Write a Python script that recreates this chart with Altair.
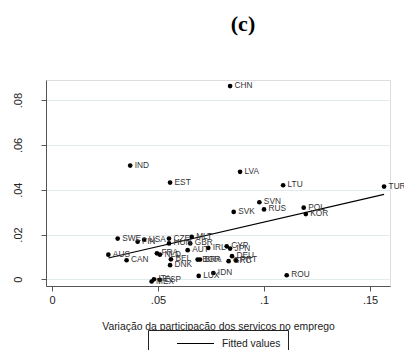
import altair as alt
import pandas as pd

countries = ["AUS", "CAN", "SWE", "FIN", "USA", "IND", "EST", "CZE", "HUN", "MLT",
             "GBR", "AUT", "FRA", "NLD", "BEL", "DNK", "BGR", "BRA", "IRL", "CYP",
             "JPN", "DEU", "GRC", "PRT", "MEX", "ITA", "ESP", "LUX", "IDN", "ROU",
             "CHN", "LVA", "LTU", "TUR", "SVN", "RUS", "SVK", "POL", "KOR"]
x_vals = [0.0266, 0.0352, 0.0310, 0.0404, 0.0435, 0.0369, 0.0557, 0.0552, 0.0552, 0.0659,
          0.0652, 0.0640, 0.0495, 0.0509, 0.0561, 0.0557, 0.0687, 0.0698, 0.0737, 0.0824,
          0.0840, 0.0849, 0.0833, 0.0868, 0.0470, 0.0481, 0.0509, 0.0692, 0.0761, 0.1107,
          0.0840, 0.0887, 0.1090, 0.1566, 0.0978, 0.1000, 0.0857, 0.1187, 0.1197]
y_vals = [0.0110, 0.0085, 0.0182, 0.0168, 0.0177, 0.0508, 0.0432, 0.0182, 0.0160, 0.0189,
          0.0160, 0.0130, 0.0116, 0.0110, 0.0089, 0.0063, 0.0088, 0.0088, 0.0140, 0.0147,
          0.0137, 0.0103, 0.0081, 0.0085, -0.0010, 0.0000, -0.0002, 0.0015, 0.0028, 0.0018,
          0.0863, 0.0480, 0.0420, 0.0414, 0.0344, 0.0312, 0.0301, 0.0320, 0.0291]

y_ticks = [0, 0.02, 0.04, 0.06, 0.08]
x_ticks = [0, 0.05, 0.1, 0.15]

df = pd.DataFrame({"country": countries, "x": x_vals, "y": y_vals})

FONT = "Liberation Sans"
lab_expr = "datum.value == 0 ? '0' : substring(format(datum.value, '.2~f'), 1)"

x_enc = alt.X("x:Q",
              scale=alt.Scale(domain=[-0.0028, 0.1594], nice=False, zero=False),
              axis=alt.Axis(values=x_ticks, labelExpr=lab_expr, grid=False,
                            title="Variação da participação dos serviços no emprego",
                            titleFont=FONT, titleFontSize=10.4, titleFontWeight="normal",
                            titleColor="#222", titlePadding=16,
                            labelFont=FONT, labelFontSize=11, labelColor="#222",
                            labelPadding=3, tickSize=5, domainColor="#555",
                            tickColor="#555"))
y_enc = alt.Y("y:Q",
              scale=alt.Scale(domain=[-0.003, 0.089], nice=False, zero=False),
              axis=alt.Axis(values=y_ticks, labelExpr=lab_expr, grid=True,
                            gridColor="#e3ecec", gridWidth=1, title=None,
                            labelFont=FONT, labelFontSize=11, labelColor="#222",
                            labelAngle=270, labelAlign="center", labelBaseline="bottom",
                            labelPadding=18, tickSize=5, domainColor="#555",
                            tickColor="#555"))

base = alt.Chart(df)

points = base.mark_circle(size=22, color="black", opacity=1).encode(x=x_enc, y=y_enc)

labels = base.mark_text(align="left", baseline="middle", dx=4.5, fontSize=8.3,
                        font=FONT, color="#333").encode(x="x:Q", y="y:Q", text="country:N")

fit = base.transform_regression("x", "y").transform_calculate(
    series="'Fitted values'"
).mark_line(strokeWidth=1.1).encode(
    x="x:Q", y="y:Q",
    color=alt.Color("series:N", scale=alt.Scale(range=["#000000"]),
                    legend=alt.Legend(title=None, orient="none", legendX=102, legendY=250,
                                      strokeColor="#222", fillColor="white", padding=7.5,
                                      symbolType="M-3.7,0L3.7,0", symbolSize=100,
                                      symbolStrokeWidth=1.1, symbolStrokeColor="black",
                                      symbolFillColor="transparent", symbolOffset=34,
                                      labelFont=FONT, labelFontSize=10.3, labelColor="#222",
                                      labelOffset=20.5, cornerRadius=0))
)

chart = alt.layer(fit, points, labels).properties(
    width=344, height=206,
    padding={"left": 46, "top": 80, "right": 14, "bottom": 64},
    autosize=alt.AutoSizeParams(type="none"),
    title=alt.TitleParams(text="(c)", font="Liberation Serif", fontSize=22,
                          fontWeight="bold", color="black", anchor="middle",
                          dx=25, offset=44),
).configure_view(stroke=None).configure(background="white")

chart.save("out.html", embed_options={"renderer": "svg", "actions": False})
